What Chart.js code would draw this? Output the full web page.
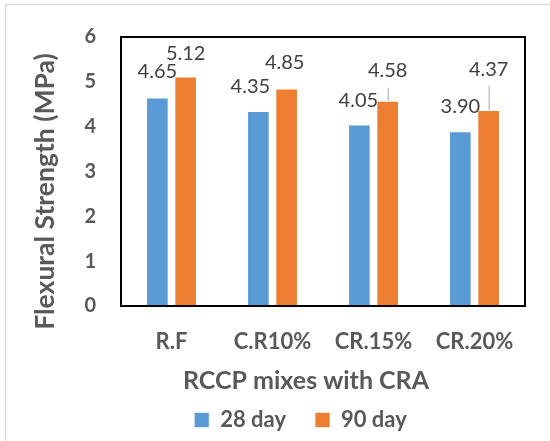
<!DOCTYPE html>
<html>
<head>
<meta charset="utf-8">
<script src="https://cdn.jsdelivr.net/npm/chart.js@4"></script>
<style>
  body { margin: 0; background: #fff; }
  #wrap { width: 550px; height: 441px; }
</style>
</head>
<body>
<div id="wrap"><canvas id="myChart" width="550" height="441"></canvas></div>
<script>
const mixes = ['R.F', 'C.R10%', 'CR.15%', 'CR.20%'];
const day28 = [4.65, 4.35, 4.05, 3.90];
const day90 = [5.12, 4.85, 4.58, 4.37];
const yTicks = [0, 1, 2, 3, 4, 5, 6];

const gray = '#595959';
const xTitle = 'RCCP mixes with CRA';
const yTitle = 'Flexural Strength (MPa)';

// frame around the whole picture + black box around plot area
const framePlugin = {
  id: 'frame',
  afterLayout(chart) {
    // legend sits a bit right of and below where chart.js centres it
    const lg = chart.legend;
    lg.left += 38; lg.right += 38;
    lg.top += 4; lg.bottom += 4;
  },
  beforeDraw(chart) {
    const c = chart.ctx;
    c.save();
    c.strokeStyle = '#d9d9d9';
    c.lineWidth = 1.5;
    c.strokeRect(5.5, 4.5, 700, 700);
    c.restore();
  },
  afterDatasetsDraw(chart) {
    const a = chart.chartArea;
    const c = chart.ctx;
    c.save();
    c.strokeStyle = '#000';
    c.lineWidth = 2;
    c.strokeRect(a.left, a.top, a.right - a.left, a.bottom - a.top);

    // axis titles
    c.fillStyle = gray;
    c.textAlign = 'center';
    c.textBaseline = 'middle';
    c.font = 'bold 25px Lato';
    c.fillText(xTitle, (a.left + a.right) / 2 - 17, a.bottom + 75);
    c.translate(45, (a.top + a.bottom) / 2 + 20);
    c.rotate(-Math.PI / 2);
    c.font = 'bold 26.5px Lato';
    c.fillText(yTitle, 0, 0);
    c.restore();
  }
};

// value labels over bars, some lifted with a leader line
const valueLabels = {
  id: 'valueLabels',
  afterDatasetsDraw(chart, args, opts) {
    const c = chart.ctx;
    c.save();
    c.font = '20px Lato';
    c.fillStyle = '#404040';
    c.textAlign = 'center';
    c.textBaseline = 'middle';
    chart.data.datasets.forEach((ds, i) => {
      chart.getDatasetMeta(i).data.forEach((bar, j) => {
        const lift = opts.lift[i][j];
        const dx = opts.shift[i][j];
        const ty = bar.y - lift;
        c.fillText(ds.data[j].toFixed(2), bar.x + dx, ty);
        if (lift > 28) {
          c.strokeStyle = '#a6a6a6';
          c.lineWidth = 1;
          c.beginPath();
          c.moveTo(bar.x + 0.5, ty + 17);
          c.lineTo(bar.x + 0.5, bar.y);
          c.stroke();
        }
      });
    });
    c.restore();
  }
};

new Chart(document.getElementById('myChart'), {
  type: 'bar',
  data: {
    labels: mixes,
    datasets: [
      {
        label: '28 day',
        data: day28,
        backgroundColor: '#5b9bd5',
        borderColor: 'rgba(255,255,255,0.7)',
        borderWidth: 1,
        categoryPercentage: 0.56,
        barPercentage: 0.8
      },
      {
        label: '90 day',
        data: day90,
        backgroundColor: '#ed7d31',
        borderColor: 'rgba(255,255,255,0.7)',
        borderWidth: 1,
        categoryPercentage: 0.56,
        barPercentage: 0.8
      }
    ]
  },
  options: {
    responsive: false,
    animation: false,
    layout: { padding: { top: 34, right: 25, left: 0, bottom: 4 } },
    plugins: {
      tooltip: { enabled: false },
      legend: {
        position: 'bottom',
        labels: {
          boxWidth: 15,
          boxHeight: 15,
          padding: 29,
          color: gray,
          font: { family: 'Lato', size: 22, weight: 'bold' }
        }
      },
      valueLabels: {
        lift: [[26, 24, 24, 25], [23, 26, 30, 41]],
        shift: [[0, -8, -1, 0], [0, -2, 0, 0]]
      }
    },
    scales: {
      x: {
        grid: { display: false, drawTicks: false },
        border: { display: false },
        ticks: {
          color: gray,
          padding: 23,
          font: { family: 'Lato', size: 22, weight: 'bold' }
        },
        afterFit(scale) { scale.height = 70; }
      },
      y: {
        min: 0,
        max: 6,
        grid: { display: false, drawTicks: false },
        border: { display: false },
        afterBuildTicks(scale) {
          scale.ticks = yTicks.map(v => ({ value: v }));
        },
        ticks: {
          color: gray,
          padding: 25,
          font: { family: 'Lato', size: 20, weight: 'bold' }
        },
        afterFit(scale) { scale.width = 121; }
      }
    }
  },
  plugins: [framePlugin, valueLabels]
});
</script>
</body>
</html>
